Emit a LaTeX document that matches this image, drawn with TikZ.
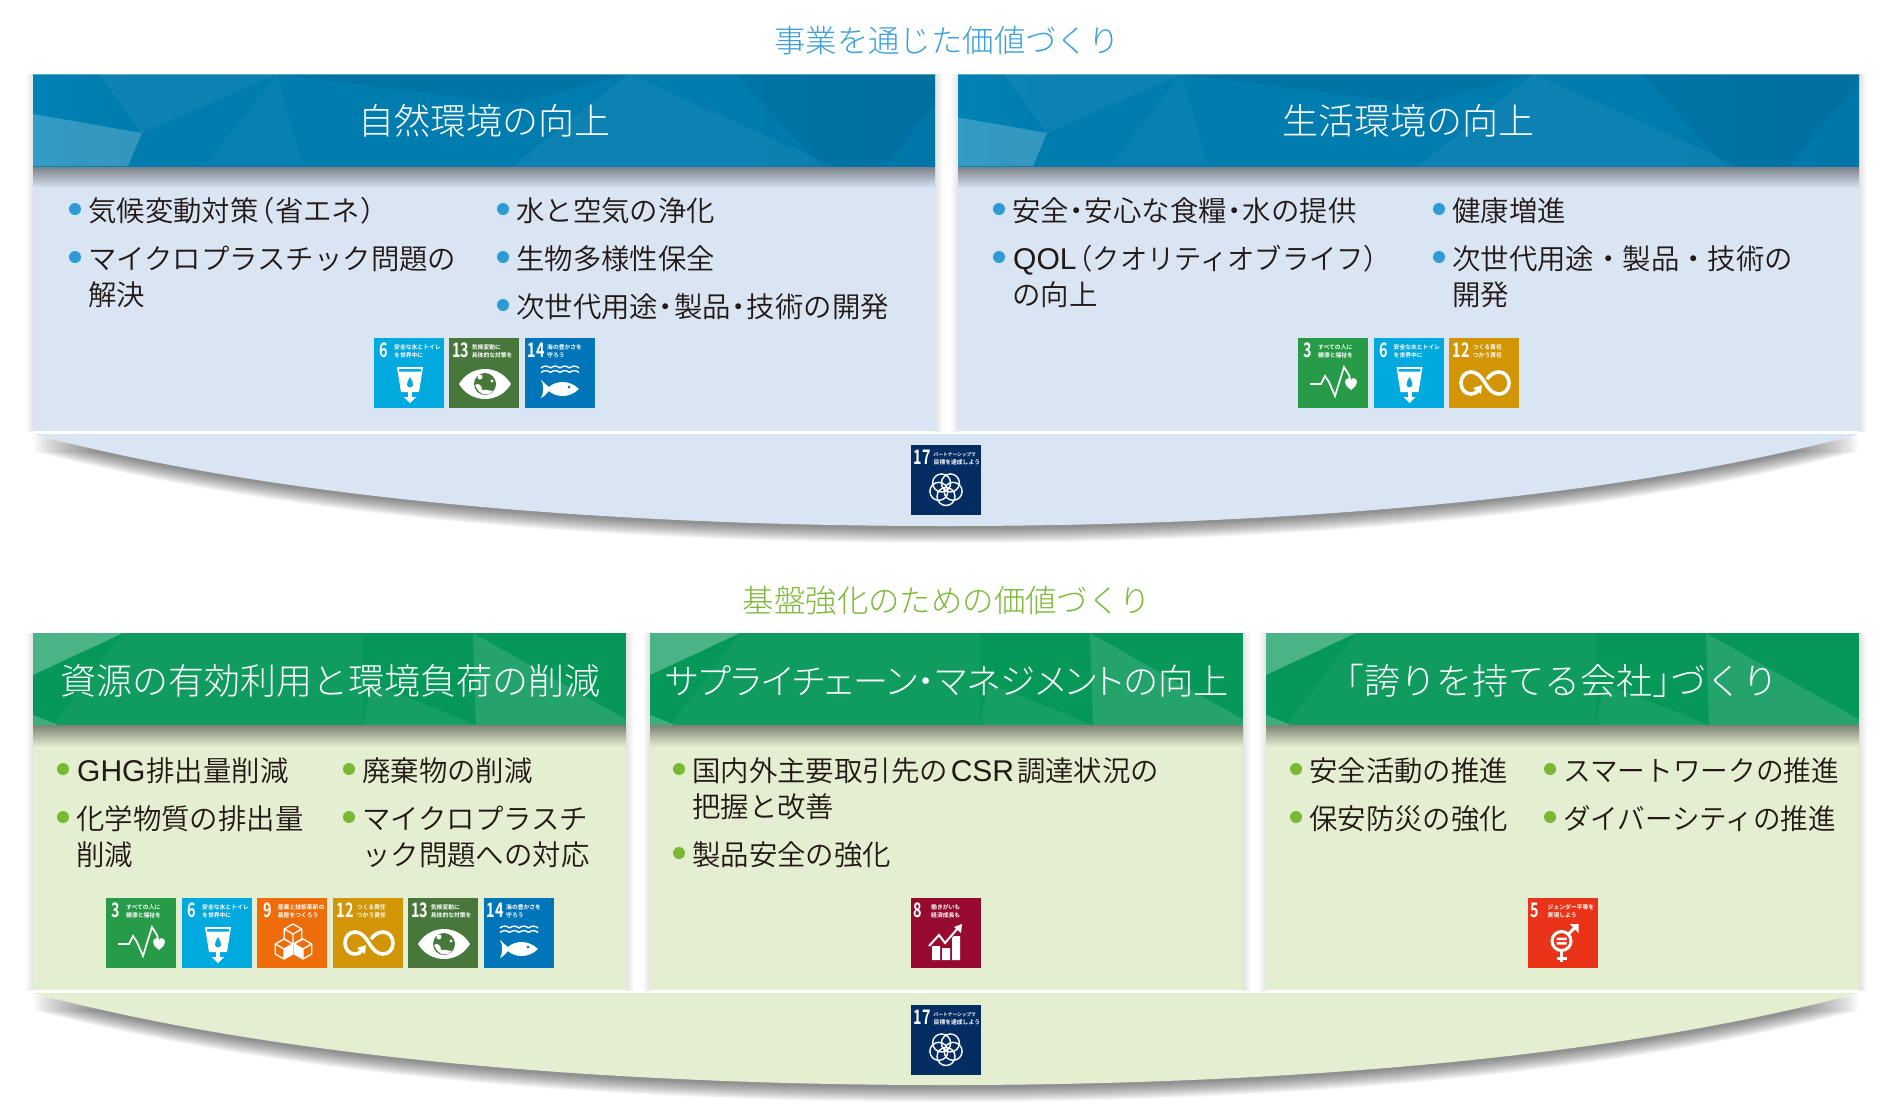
\documentclass[tikz,border=0pt]{standalone}
\usepackage{fontspec}
\setmainfont{Noto Sans CJK JP Light}
\newfontfamily\bodyfont{Noto Sans CJK JP DemiLight}
\newfontfamily\kanafont[RawFeature=+palt]{Noto Sans CJK JP Light}
\newfontfamily\sdgfont{Noto Sans CJK JP Bold}
\newfontfamily\latinfont{Liberation Sans}

\definecolor{blueA}{HTML}{0099D1}
\definecolor{blueB}{HTML}{007CAE}
\definecolor{blueC}{HTML}{006C9C}
\definecolor{blueBody}{HTML}{D9E5F3}
\definecolor{blueDot}{HTML}{2E9BD6}
\definecolor{blueHead}{HTML}{3C9FD5}
\definecolor{greenA}{HTML}{069858}
\definecolor{greenBody}{HTML}{E4EFD1}
\definecolor{greenDot}{HTML}{7AB833}
\definecolor{greenHead}{HTML}{7CB83A}
\definecolor{inkText}{HTML}{231815}
\definecolor{sdgthree}{HTML}{279B48}
\definecolor{sdgfive}{HTML}{EA3419}
\definecolor{sdgsix}{HTML}{00A9DE}
\definecolor{sdgeight}{HTML}{970B31}
\definecolor{sdgnine}{HTML}{EE6C0A}
\definecolor{sdgtwelve}{HTML}{D19505}
\definecolor{sdgthirteen}{HTML}{48773C}
\definecolor{sdgfourteen}{HTML}{0075BA}
\definecolor{sdgseventeen}{HTML}{042E63}

\pgfdeclarehorizontalshading{blueheadshade}{100bp}{color(0bp)=(blueA); color(8bp)=(blueA); color(30bp)=(blueB); color(62bp)=(blueB); color(100bp)=(blueC)}

\tikzset{
  headtxt/.style={text=white,font=\fontsize{36}{36}\selectfont,inner sep=0pt},
  sectxt/.style={font=\fontsize{31.4}{32}\selectfont,inner sep=0pt},
  itemtxt/.style={text=inkText,font=\bodyfont\fontsize{28.4}{36}\selectfont,anchor=north west,align=left,inner sep=0pt},
  sdgnum/.style={text=white,font=\sdgfont\fontsize{20}{20}\selectfont,inner sep=0pt},
  sdgtxt/.style={text=white,font=\sdgfont\fontsize{5.8}{8.6}\selectfont,anchor=north west,align=left,inner sep=0pt},
  facet/.style={white,opacity=#1},
  pic/.style={white,line width=#1}
}

\newcommand{\ndot}{\kern-.22em・\kern-.22em}
\newcommand{\lat}[1]{{\latinfont\fontsize{30}{36}\selectfont\kern1pt #1\kern1pt}}

% panel: x0 x1 ytop ybottom body colour
\newcommand{\panelbody}[5]{
  \shade[left color=white,right color=black!11] (#1-8,#3) rectangle (#1,#4);
  \shade[left color=black!11,right color=white] (#2,#3) rectangle (#2+8,#4);
  \fill[#5] (#1,#3) rectangle (#2,#4);
  \shade[top color=black!45!#5,bottom color=#5] (#1,#3+92) rectangle (#2,#3+114);
}
\newcommand{\blueheader}[4]{
  \begin{scope}[shift={(#1,#2)}]
  \clip (0,0) rectangle (#3,92);
  \shade[shading=blueheadshade] (0,0) rectangle (#3,92);
  \begin{scope}[shift={(#4,0)}]
  \fill[facet=.2] (0,40)--(109,59)--(95,92)--(-30,92)--(-30,30)--cycle;
  \fill[facet=.05] (66,0)--(244,0)--(109,59)--cycle;
  \fill[facet=.03] (244,0)--(172,92)--(270,92)--cycle;
  \fill[facet=.05] (596,0)--(480,92)--(800,92)--cycle;
  \fill[black,opacity=.05] (244,0)--(596,0)--(480,30)--cycle;
  \fill[black,opacity=.05] (704,0)--(787,92)--(852,92)--(925,0)--cycle;
  \end{scope}
  \draw[white,opacity=.35] (0,0)--(#3,0);
  \end{scope}
}
\newcommand{\greenheader}[3]{
  \begin{scope}[shift={(#1,#2)}]
  \clip (0,0) rectangle (#3,92);
  \fill[greenA] (0,0) rectangle (#3,92);
  \fill[facet=.28] (0,0)--(90,0)--(0,42)--cycle;
  \fill[facet=.22] (0,82)--(25,92)--(0,92)--cycle;
  \fill[facet=.04] (90,0)--(20,92)--(330,92)--(330,0)--cycle;
  \fill[facet=.12] (440,0)--(594,87)--(594,92)--(443,92)--cycle;
  \fill[facet=.07] (330,92)--(338,50)--(443,92)--cycle;
  \end{scope}
}
% arc under the panels, with its shadow
\newcommand{\arcband}[2]{
  \begin{scope}[shift={(0,#1)}]
  \foreach \dy in {2,3,...,17}
    \fill[black,opacity=.036] (33,434+\dy) .. controls (300,505+\dy) and (650,526+\dy) .. (946,526+\dy) .. controls (1242,526+\dy) and (1592,505+\dy) .. (1859,434+\dy) -- cycle;
  \fill[#2] (33,434) .. controls (300,505) and (650,526) .. (946,526) .. controls (1242,526) and (1592,505) .. (1859,434) -- cycle;
  \end{scope}
}
% one bullet line, y is the middle of the first row
\newcommand{\bulletitem}[5]{
  \node[itemtxt] (#1) at (#2,#3-12) {\rule{0pt}{24pt}#5};
  \fill[#4] (#2-13,#3) circle (6);
}
% square goal icon: x y colour number numx textx text
\newcommand{\sdg}[7]{
  \fill[#3] (#1,#2) rectangle (#1+70,#2+70);
  \node[sdgnum] (num#4x#1y#2) at (#1+#5,#2+12.5) {\scalebox{.72}[1]{#4}};
  \node[sdgtxt] (txt#4x#1y#2) at (#1+#6,#2+6) {\rule{0pt}{5pt}#7};
}

\newcommand{\goalthree}[2]{
  \sdg{#1}{#2}{sdgthree}{3}{10}{20}{すべての人に\\健康と福祉を}
  \begin{scope}[shift={(#1,#2)}]
  \draw[pic=1.7] (12,46)--(23,46)--(27,38)--(31,44)--(37,58)--(46,29)--(51,37)--(52,41);
  \fill[white] (53,52) .. controls (48,48) and (47,46) .. (47,44) .. controls (47,40) and (52,39) .. (53,42) .. controls (54,39) and (59,40) .. (59,44) .. controls (59,46) and (58,48) .. (53,52) -- cycle;
  \end{scope}
}
\newcommand{\goalfive}[2]{
  \sdg{#1}{#2}{sdgfive}{5}{7}{20}{ジェンダー平等を\\実現しよう}
  \begin{scope}[shift={(#1,#2)}]
  \draw[pic=3] (34,43) circle (9.5);
  \draw[pic=3] (34,53)--(34,64) (29,60)--(39,60);
  \draw[pic=3] (41,36)--(48,29);
  \fill[white] (42,26)--(51,26)--(51,35)--cycle;
  \fill[white] (29,39.5) rectangle (39,42) (29,44) rectangle (39,46.5);
  \end{scope}
}
\newcommand{\goalsix}[2]{
  \sdg{#1}{#2}{sdgsix}{6}{10}{20}{安全な水とトイレ\\を世界中に}
  \begin{scope}[shift={(#1,#2)}]
  \fill[white] (23,29)--(49,29)--(45,54)--(27,54)--cycle;
  \fill[sdgsix] (25,31)--(47,31)--(46.7,33.5)--(25.3,33.5)--cycle;
  \fill[sdgsix] (36,39) .. controls (34,43) and (32.5,45) .. (33,47) .. controls (34,50) and (38,50) .. (39,47) .. controls (39.5,45) and (38,43) .. (36,39) -- cycle;
  \fill[white] (34,54) rectangle (38,60);
  \fill[white] (30,59)--(42,59)--(36,65)--cycle;
  \end{scope}
}
\newcommand{\goaleight}[2]{
  \sdg{#1}{#2}{sdgeight}{8}{7}{20}{働きがいも\\経済成長も}
  \begin{scope}[shift={(#1,#2)}]
  \fill[white] (21,48) rectangle (29,62) (31,50) rectangle (39,62) (41,38) rectangle (49,62);
  \draw[sdgeight,line width=3.6] (18,48)--(28,37)--(34,45)--(47,30);
  \draw[pic=2] (18,48)--(28,37)--(34,45)--(47,30);
  \fill[white] (43,29)--(51,26)--(50,35)--cycle;
  \end{scope}
}
\newcommand{\goalnine}[2]{
  \sdg{#1}{#2}{sdgnine}{9}{10.7}{20.7}{産業と技術革新の\\基盤をつくろう}
  \begin{scope}[shift={(#1,#2)}]
  \foreach \cx/\cy in {36/36,27/51,46/51} {
    \draw[pic=1.3,line join=round,fill=sdgnine] (\cx,\cy-10)--(\cx+8.7,\cy-5)--(\cx+8.7,\cy+5)--(\cx,\cy+10)--(\cx-8.7,\cy+5)--(\cx-8.7,\cy-5)--cycle;
    \draw[pic=1.3] (\cx,\cy)--(\cx,\cy+10) (\cx,\cy)--(\cx+8.7,\cy-5) (\cx,\cy)--(\cx-8.7,\cy-5);
  }
  \fill[white] (27,51)--(35.7,46)--(35.7,56)--(27,61)--cycle;
  \fill[white] (46,51)--(46,61)--(37.3,56)--(37.3,46)--cycle;
  \end{scope}
}
\newcommand{\goaltwelve}[2]{
  \sdg{#1}{#2}{sdgtwelve}{12}{12}{23.7}{つくる責任\\つかう責任}
  \begin{scope}[shift={(#1,#2)}]
  \draw[pic=3.6] (29,52) .. controls (27,55) and (25,56) .. (22,56) .. controls (16,56) and (12,51) .. (12,45) .. controls (12,39) and (16,34) .. (22,34) .. controls (27,34) and (31,37) .. (36,45) .. controls (41,53) and (45,56) .. (50,56) .. controls (56,56) and (60,51) .. (60,45) .. controls (60,39) and (56,34) .. (50,34) .. controls (45,34) and (41,37) .. (38,41);
  \fill[white] (24,50)--(33,47)--(32,56)--cycle;
  \end{scope}
}
\newcommand{\goalthirteen}[2]{
  \sdg{#1}{#2}{sdgthirteen}{13}{11.7}{22.7}{気候変動に\\具体的な対策を}
  \begin{scope}[shift={(#1,#2)}]
  \fill[white] (10,46) .. controls (22,26) and (50,26) .. (62,46) .. controls (50,66) and (22,66) .. (10,46) -- cycle;
  \fill[sdgthirteen] (36,46) circle (11);
  \fill[white] (26,47) .. controls (30,44) and (33,48) .. (33,52) .. controls (37,51) and (41,53) .. (44,53) .. controls (40,58) and (31,59) .. (26,47) -- cycle;
  \fill[white] (31,39) circle (2.5) (43,43) circle (1.6);
  \end{scope}
}
\newcommand{\goalfourteen}[2]{
  \sdg{#1}{#2}{sdgfourteen}{14}{11}{22}{海の豊かさを\\守ろう}
  \begin{scope}[shift={(#1,#2)}]
  \foreach \wy in {30,34.5} \foreach \wx in {16,25.5,35,44.5}
    \draw[pic=1.4] (\wx,\wy) .. controls (\wx+3,\wy-2.5) and (\wx+6.5,\wy-2.5) .. (\wx+9.5,\wy);
  \fill[white] (16,42) .. controls (20,45) and (22,48) .. (24,49) .. controls (30,43) and (44,41) .. (54,51) .. controls (44,61) and (30,59) .. (24,53) .. controls (22,55) and (20,58) .. (16,60) .. controls (19,55) and (19,47) .. (16,42) -- cycle;
  \fill[sdgfourteen] (44,49) circle (1.5);
  \end{scope}
}
\newcommand{\goalseventeen}[2]{
  \sdg{#1}{#2}{sdgseventeen}{17}{11}{22.5}{\fontsize{4.7}{8.6}\selectfont パートナーシップで\\目標を達成しよう}
  \begin{scope}[shift={(#1,#2)}]
  \foreach \ang in {90,162,234,306,18}
    \draw[pic=1.4] (35,44)++(\ang:7.5) circle (9);
  \end{scope}
}

\begin{document}
\begin{tikzpicture}[x=1pt,y=-1pt]
\useasboundingbox (0,0) rectangle (1892,1117);

% upper half
\node[sectxt,text=blueHead] (topsec) at (947,41) {事業を通じた価値づくり};
\panelbody{33}{935}{74}{431}{blueBody}
\panelbody{958}{1859}{74}{431}{blueBody}
\blueheader{33}{74}{902}{0}
\blueheader{958}{74}{901}{-20}
\node[headtxt] (headA) at (484,121) {自然環境の向上};
\node[headtxt] (headB) at (1408,121) {生活環境の向上};
\arcband{0}{blueBody}

\bulletitem{a1}{88}{209}{blueDot}{気候変動対策\kern-.42em（省エネ）}
\bulletitem{a2}{88}{257}{blueDot}{マイクロプラスチック問題の\\解決}
\bulletitem{a3}{516}{209}{blueDot}{水と空気の浄化}
\bulletitem{a4}{516}{257}{blueDot}{生物多様性保全}
\bulletitem{a5}{516}{305}{blueDot}{次世代用途\ndot 製品\ndot 技術の開発}
\bulletitem{b1}{1012}{209}{blueDot}{安全\ndot 安心な食糧\ndot 水の提供}
\bulletitem{b2}{1012}{257}{blueDot}{\lat{QOL}\kern-.42em\scalebox{.96}[1]{（クオリティオブライフ）}\\の向上}
\bulletitem{b3}{1452}{209}{blueDot}{健康増進}
\bulletitem{b4}{1452}{257}{blueDot}{次世代用途・製品・技術の\\開発}

\goalsix{374}{338}
\goalthirteen{449}{338}
\goalfourteen{525}{338}
\goalthree{1298}{338}
\goalsix{1373.5}{338}
\goaltwelve{1449}{338}
\goalseventeen{911}{445}

% lower half
\node[sectxt,text=greenHead] (lowsec) at (947,601) {基盤強化のための価値づくり};
\panelbody{33}{626}{633}{990}{greenBody}
\panelbody{650}{1243}{633}{990}{greenBody}
\panelbody{1266}{1859}{633}{990}{greenBody}
\greenheader{33}{633}{593}
\greenheader{650}{633}{593}
\greenheader{1266}{633}{593}
\node[headtxt] (headC) at (330,681) {資源の有効利用と環境負荷の削減};
\node[headtxt,font=\fontsize{35.2}{36}\selectfont] (headD) at (947,681) {\kanafont サプライチェーン・マネジメントの向上};
\node[headtxt] (headE) at (1553,681) {「誇りを持てる会社」\kern-.5em づくり};
\arcband{559}{greenBody}

\bulletitem{c1}{76}{769}{greenDot}{\lat{GHG}排出量削減}
\bulletitem{c2}{76}{817}{greenDot}{化学物質の排出量\\削減}
\bulletitem{c3}{362}{769}{greenDot}{廃棄物の削減}
\bulletitem{c4}{362}{817}{greenDot}{マイクロプラスチ\\ック問題への対応}
\bulletitem{d1}{692}{769}{greenDot}{国内外主要取引先の\kern2pt\lat{CSR}\kern2pt 調達状況の\\把握と改善}
\bulletitem{d2}{692}{853}{greenDot}{製品安全の強化}
\bulletitem{e1}{1309}{769}{greenDot}{安全活動の推進}
\bulletitem{e2}{1309}{817}{greenDot}{保安防災の強化}
\bulletitem{e3}{1563}{769}{greenDot}{\scalebox{.975}[1]{スマートワークの推進}}
\bulletitem{e4}{1563}{817}{greenDot}{\scalebox{.97}[1]{ダイバーシティの推進}}

\goalthree{106}{898}
\goalsix{182}{898}
\goalnine{257}{898}
\goaltwelve{333}{898}
\goalthirteen{408}{898}
\goalfourteen{484}{898}
\goaleight{911}{898}
\goalfive{1527.5}{898}
\goalseventeen{911}{1005}
\end{tikzpicture}
\end{document}
